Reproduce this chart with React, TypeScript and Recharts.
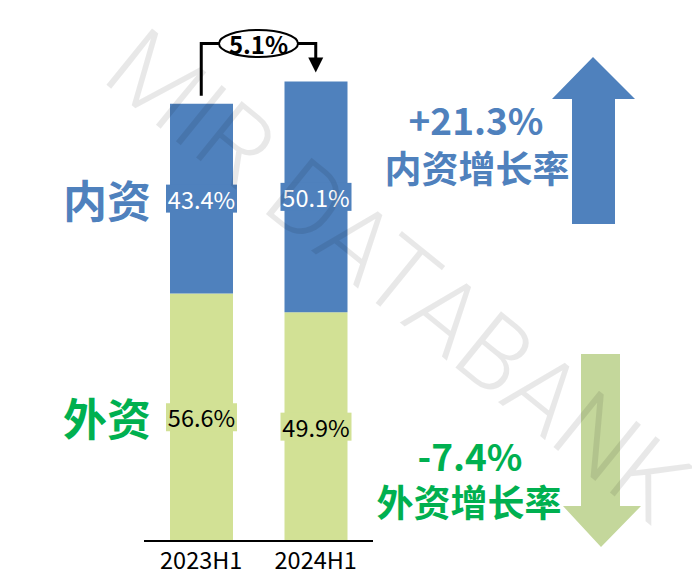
import React from "react";
import { BarChart, Bar, XAxis, YAxis, LabelList } from "recharts";

const periods = ["2023H1", "2024H1"];
// bar heights as scale index (2023H1 total = 100)
const foreignValues = [56.6, 52.3];
const domesticValues = [43.4, 52.8];
// shares printed on bars
const foreignShare = ["56.6%", "49.9%"];
const domesticShare = ["43.4%", "50.1%"];
const totalGrowth = "5.1%";
const domesticGrowth = "+21.3%";
const foreignGrowth = "-7.4%";
const domesticName = "内资";
const foreignName = "外资";
const domesticGrowthName = "内资增长率";
const foreignGrowthName = "外资增长率";

const data = periods.map((p, i) => ({
  period: p,
  foreign: foreignValues[i],
  domestic: domesticValues[i],
  foreignShare: foreignShare[i],
  domesticShare: domesticShare[i],
}));

const W = 692;
const H = 581;
const M = { top: 60, right: 319, bottom: 0, left: 144 };
const XAXIS_H = 40;
const Y_MAX = 110;
const plotLeft = M.left;
const plotRight = W - M.right;
const plotTop = M.top;
const plotBottom = H - M.bottom - XAXIS_H;
const yOf = (v: number) => plotBottom - (v / Y_MAX) * (plotBottom - plotTop);
const band = (plotRight - plotLeft) / periods.length;
const xOf = (i: number) => plotLeft + (i + 0.5) * band;

const BLUE = "#4f81bd";
const LGREEN = "#d2e195";
const GREEN = "#00b050";
const FONT = "'Noto Sans CJK SC', 'Noto Sans', sans-serif";

const makeLabel = (fill: string, color: string) => (props: any) => {
  const { x, y, width, height, value } = props;
  const cx = x + width / 2;
  const cy = y + height / 2;
  const bw = 71;
  const bh = 28;
  return (
    <g>
      <rect x={cx - bw / 2} y={cy - bh / 2} width={bw} height={bh} fill={fill} />
      <text
        x={cx}
        y={cy}
        textAnchor="middle"
        dominantBaseline="central"
        fontSize={23.5}
        fontFamily={FONT}
        fill={color}
      >
        {value}
      </text>
    </g>
  );
};

function Overlay() {
  const x1 = xOf(0);
  const x2 = xOf(1);
  const top1 = yOf(foreignValues[0] + domesticValues[0]);
  const top2 = yOf(foreignValues[1] + domesticValues[1]);
  const by = 43.5;
  const cx = (x1 + x2) / 2;
  const rx = 39.5;
  const ry = 13.5;
  const tip = top2 - 9;
  const seg1Mid = (i: number) => (yOf(foreignValues[i]) + plotBottom) / 2;
  const seg2Mid = (i: number) =>
    (yOf(foreignValues[i]) + yOf(foreignValues[i] + domesticValues[i])) / 2;
  return (
    <svg
      width={W}
      height={H}
      style={{ position: "absolute", left: 0, top: 0, pointerEvents: "none" }}
    >
      {/* growth bracket */}
      <polyline
        points={`${x1},${top1 - 8} ${x1},${by} ${cx - rx},${by}`}
        fill="none"
        stroke="#000"
        strokeWidth={3}
      />
      <polyline
        points={`${cx + rx},${by} ${x2},${by} ${x2},${tip - 14}`}
        fill="none"
        stroke="#000"
        strokeWidth={3}
      />
      <polygon
        points={`${x2 - 7.5},${tip - 15} ${x2 + 7.5},${tip - 15} ${x2},${tip}`}
        fill="#000"
      />
      <ellipse cx={cx} cy={by} rx={rx} ry={ry} fill="#fff" stroke="#000" strokeWidth={2} />
      <text
        x={cx}
        y={by}
        textAnchor="middle"
        dominantBaseline="central"
        fontSize={24}
        fontWeight="bold"
        fontFamily={FONT}
        fill="#000"
      >
        {totalGrowth}
      </text>

      {/* left series names */}
      <text
        x={107}
        y={seg2Mid(0)}
        textAnchor="middle"
        dominantBaseline="central"
        fontSize={44}
        fontWeight="bold"
        fontFamily={FONT}
        fill={BLUE}
      >
        {domesticName}
      </text>
      <text
        x={107}
        y={seg1Mid(0)}
        textAnchor="middle"
        dominantBaseline="central"
        fontSize={44}
        fontWeight="bold"
        fontFamily={FONT}
        fill={GREEN}
      >
        {foreignName}
      </text>

      {/* up arrow */}
      <polygon
        points="572,224 615,224 615,99 635,99 593,57 552,99 572,99"
        fill={BLUE}
      />
      <text
        x={476}
        y={119}
        textAnchor="middle"
        dominantBaseline="central"
        fontSize={37}
        fontWeight="bold"
        fontFamily={FONT}
        fill={BLUE}
      >
        {domesticGrowth}
      </text>
      <text
        x={477}
        y={167}
        textAnchor="middle"
        dominantBaseline="central"
        fontSize={37}
        fontWeight="bold"
        fontFamily={FONT}
        fill={BLUE}
      >
        {domesticGrowthName}
      </text>

      {/* down arrow */}
      <polygon
        points="581,354 620,354 620,506 641,506 601,547 563,506 581,506"
        fill="#c4d79b"
      />
      <text
        x={470}
        y={455}
        textAnchor="middle"
        dominantBaseline="central"
        fontSize={37}
        fontWeight="bold"
        fontFamily={FONT}
        fill={GREEN}
      >
        {foreignGrowth}
      </text>
      <text
        x={469}
        y={501}
        textAnchor="middle"
        dominantBaseline="central"
        fontSize={37}
        fontWeight="bold"
        fontFamily={FONT}
        fill={GREEN}
      >
        {foreignGrowthName}
      </text>

      {/* watermark */}
      <text
        x={398}
        y={276}
        textAnchor="middle"
        dominantBaseline="central"
        fontSize={102}
        fontWeight={300}
        fontFamily="Roboto, 'Liberation Sans', sans-serif"
        fill="#000"
        fillOpacity={0.09}
        transform="rotate(39 398 276)"
      >
        MIR DATABANK
      </text>
    </svg>
  );
}

export default function App() {
  return (
    <div style={{ position: "absolute", left: 0, top: 0, width: W, height: H, background: "#fff" }}>
      <BarChart width={W} height={H} data={data} margin={M}>
        <XAxis
          dataKey="period"
          height={XAXIS_H}
          axisLine={{ stroke: "#000", strokeWidth: 2 }}
          tickLine={false}
          tickMargin={5}
          tick={{ fontSize: 23.5, fill: "#000", fontFamily: FONT }}
        />
        <YAxis hide domain={[0, Y_MAX]} />
        <Bar dataKey="foreign" stackId="a" fill={LGREEN} barSize={63} isAnimationActive={false}>
          <LabelList dataKey="foreignShare" content={makeLabel(LGREEN, "#000")} />
        </Bar>
        <Bar dataKey="domestic" stackId="a" fill={BLUE} barSize={63} isAnimationActive={false}>
          <LabelList dataKey="domesticShare" content={makeLabel(BLUE, "#fff")} />
        </Bar>
      </BarChart>
      <Overlay />
    </div>
  );
}
